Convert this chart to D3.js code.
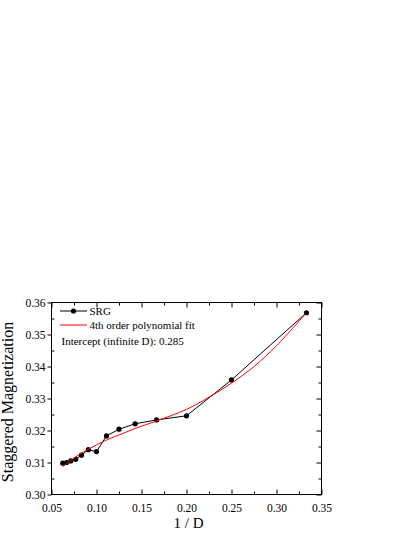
<!DOCTYPE html>
<html>
<head>
<meta charset="utf-8">
<script src="https://cdn.jsdelivr.net/npm/d3@7"></script>
<style>
  body { margin: 0; background: #fff; }
  text { font-family: "Liberation Serif", "Times New Roman", serif; fill: #000; }
</style>
</head>
<body>
<div id="chart"></div>
<script>
// data
var invD   = [0.0625, 0.0667, 0.0714, 0.0769, 0.0833, 0.0909, 0.1, 0.1111, 0.125, 0.1429, 0.1667, 0.2, 0.25, 0.3333];
var srgMag = [0.3098, 0.3100, 0.3105, 0.3110, 0.3123, 0.3140, 0.3134, 0.3183, 0.3204, 0.3221, 0.3233, 0.3246, 0.3358, 0.3568];

// 4th order fit curve
var fitX = [0.0625, 0.075, 0.0875, 0.1, 0.1125, 0.125, 0.1429, 0.1667, 0.2, 0.225, 0.25, 0.275, 0.3, 0.3333];
var fitY = [0.3087, 0.3114, 0.3136, 0.3155, 0.3172, 0.3186, 0.3206, 0.3230, 0.3266, 0.3304, 0.3348, 0.3400, 0.3465, 0.3568];

var xTicks = [0.05, 0.10, 0.15, 0.20, 0.25, 0.30, 0.35];
var yTicks = [0.30, 0.31, 0.32, 0.33, 0.34, 0.35, 0.36];
var xMinor = [0.075, 0.125, 0.175, 0.225, 0.275, 0.325];
var yMinor = [0.305, 0.315, 0.325, 0.335, 0.345, 0.355];

var legendLabels = ["SRG", "4th order polynomial fit", "Intercept (infinite D): 0.285"];

var W = 415, H = 537;
var plot = {left: 51.5, right: 321.5, top: 302.5, bottom: 494.5};

var svg = d3.select("#chart").append("svg")
    .attr("width", W)
    .attr("height", H);

svg.append("rect").attr("width", W).attr("height", H).attr("fill", "#fff");

var x = d3.scaleLinear().domain([0.05, 0.35]).range([plot.left, plot.right]);
var y = d3.scaleLinear().domain([0.30, 0.36]).range([plot.bottom, plot.top]);

var fmt = d3.format(".2f");

//bottom axis (labels, ticks inward)
svg.append("g")
    .attr("class", "xaxis")
    .attr("transform", "translate(0," + plot.bottom + ")")
    .call(d3.axisBottom(x).tickValues(xTicks).tickFormat(fmt).tickSize(-5).tickPadding(9));
svg.append("g")
    .attr("transform", "translate(0," + plot.bottom + ")")
    .call(d3.axisBottom(x).tickValues(xMinor).tickFormat("").tickSize(-3));

//top axis
svg.append("g")
    .attr("transform", "translate(0," + plot.top + ")")
    .call(d3.axisTop(x).tickValues(xTicks).tickFormat("").tickSize(-5));
svg.append("g")
    .attr("transform", "translate(0," + plot.top + ")")
    .call(d3.axisTop(x).tickValues(xMinor).tickFormat("").tickSize(-3));

//left axis (major ticks out, minor in)
svg.append("g")
    .attr("class", "yaxis")
    .attr("transform", "translate(" + plot.left + ",0)")
    .call(d3.axisLeft(y).tickValues(yTicks).tickFormat(fmt).tickSize(4).tickPadding(2));
svg.append("g")
    .attr("transform", "translate(" + plot.left + ",0)")
    .call(d3.axisLeft(y).tickValues(yMinor).tickFormat("").tickSize(-3));

//right axis
svg.append("g")
    .attr("transform", "translate(" + plot.right + ",0)")
    .call(d3.axisRight(y).tickValues(yTicks).tickFormat("").tickSize(-5));
svg.append("g")
    .attr("transform", "translate(" + plot.right + ",0)")
    .call(d3.axisRight(y).tickValues(yMinor).tickFormat("").tickSize(-3));

svg.selectAll(".domain").remove();
svg.selectAll(".tick line").attr("stroke", "#000");
svg.selectAll(".tick text")
    .attr("font-size", "11.5px")
    .attr("font-family", "'Liberation Serif', 'Times New Roman', serif")
    .attr("fill", "#000");

//frame
svg.append("rect")
    .attr("x", plot.left)
    .attr("y", plot.top)
    .attr("width", plot.right - plot.left)
    .attr("height", plot.bottom - plot.top)
    .attr("fill", "none")
    .attr("stroke", "#000")
    .attr("stroke-width", 1);

//axis titles
svg.append("text")
    .attr("x", (plot.left + plot.right) / 2 + 2)
    .attr("y", 528)
    .attr("text-anchor", "middle")
    .attr("font-size", "15px")
    .text("1 / D");

svg.append("text")
    .attr("transform", "translate(13," + 402 + ") rotate(-90)")
    .attr("text-anchor", "middle")
    .attr("font-size", "16px")
    .text("Staggered Magnetization");

//data
var srg = invD.map(function(d, i) { return [d, srgMag[i]]; });
var fit = fitX.map(function(d, i) { return [d, fitY[i]]; });

var line = d3.line()
    .x(function(d) { return x(d[0]); })
    .y(function(d) { return y(d[1]); });

svg.append("path")
    .datum(srg)
    .attr("d", line)
    .attr("fill", "none")
    .attr("stroke", "#000")
    .attr("stroke-width", 1);

svg.selectAll("circle.pt")
    .data(srg)
    .enter()
    .append("circle")
    .attr("class", "pt")
    .attr("cx", function(d) { return x(d[0]); })
    .attr("cy", function(d) { return y(d[1]); })
    .attr("r", 2.6)
    .attr("fill", "#000");

svg.append("path")
    .datum(fit)
    .attr("d", line.curve(d3.curveCatmullRom))
    .attr("fill", "none")
    .attr("stroke", "#ff0000")
    .attr("stroke-width", 1);

//legend
var lg = svg.append("g");
lg.append("line").attr("x1", 60).attr("x2", 87).attr("y1", 311).attr("y2", 311)
    .attr("stroke", "#000");
lg.append("circle").attr("cx", 73.5).attr("cy", 311).attr("r", 2.6).attr("fill", "#000");
lg.append("text").attr("x", 89.5).attr("y", 315).attr("font-size", "11px").text(legendLabels[0]);

lg.append("line").attr("x1", 60).attr("x2", 87).attr("y1", 325).attr("y2", 325)
    .attr("stroke", "#ff0000");
lg.append("text").attr("x", 89.5).attr("y", 329).attr("font-size", "11px").text(legendLabels[1]);

lg.append("text").attr("x", 61.5).attr("y", 345).attr("font-size", "11px").text(legendLabels[2]);
</script>
</body>
</html>
